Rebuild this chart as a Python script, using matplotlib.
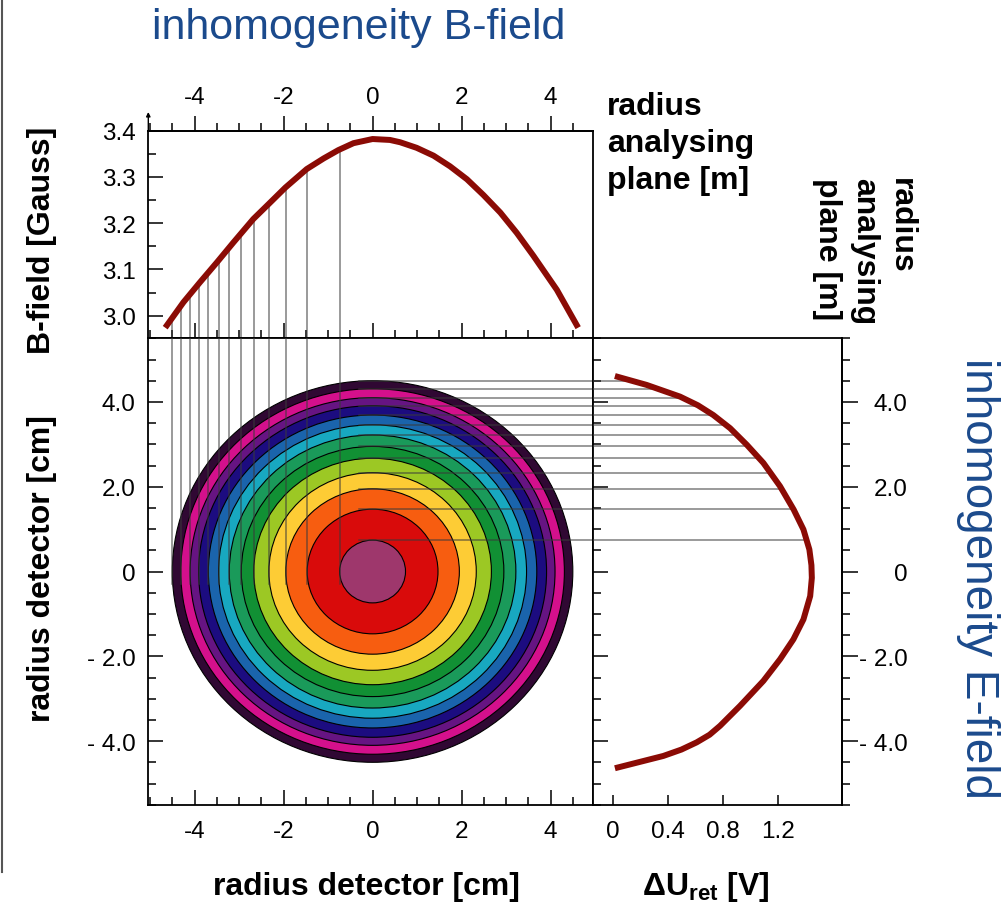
import numpy as np
import matplotlib
matplotlib.use('Agg')
import matplotlib.pyplot as plt
from matplotlib.patches import Circle
from matplotlib.ticker import MultipleLocator, FixedLocator
from matplotlib.lines import Line2D

plt.rcParams['font.family'] = ['Liberation Sans', 'DejaVu Sans']
plt.rcParams['mathtext.fontset'] = 'custom'
plt.rcParams['mathtext.rm'] = 'Liberation Sans'
plt.rcParams['mathtext.bf'] = 'Liberation Sans:bold'

# ---------------- data ----------------
# detector rings (outer to inner) [cm]
ring_radii = [4.50, 4.31, 4.10, 3.91, 3.69, 3.46, 3.22, 2.95, 2.67, 2.33, 1.95, 1.47, 0.74]
ring_colors = ['#300833', '#d4108c', '#661482', '#1c0c80', '#1a64ac', '#18a8c0',
               '#1a9a5a', '#119034', '#9cc824', '#fdcc35', '#f75d10', '#d90b0b', '#9e376c']

# magnetic field in the analysing plane
bfield_r = [-4.66, -4.25, -3.88, -3.50, -3.13, -2.68, -2.34, -1.96, -1.48, -1.10, -0.77,
            -0.43, 0.0, 0.39, 0.62, 0.99, 1.37, 1.74, 2.12, 2.49, 2.87, 3.24, 3.61,
            4.14, 4.62]
bfield_gauss = [2.974, 3.029, 3.072, 3.115, 3.158, 3.209, 3.241, 3.277, 3.317, 3.340, 3.358,
                3.373, 3.382, 3.380, 3.375, 3.363, 3.346, 3.323, 3.295, 3.261, 3.223, 3.179,
                3.130, 3.056, 2.974]

# retarding potential inhomogeneity
du_r = [4.61, 4.40, 4.125, 3.92, 3.69, 3.38, 2.99, 2.56, 2.01, 1.46, 0.99, 0.52, 0.15,
        -0.15, -0.58, -1.13, -1.60, -2.07, -2.58, -3.17, -3.64, -3.85, -4.03, -4.20,
        -4.35, -4.64]
du_volt = [0.012, 0.243, 0.485, 0.615, 0.727, 0.849, 0.970, 1.091, 1.212, 1.311, 1.382,
           1.425, 1.440, 1.443, 1.431, 1.382, 1.309, 1.212, 1.091, 0.921, 0.776, 0.700,
           0.606, 0.495, 0.364, 0.012]

r_ticks = [-4, -2, 0, 2, 4]
r_ticklabels = ['-4', '-2', '0', '2', '4']
det_ticklabels = ['- 4.0', '- 2.0', '0', '2.0', '4.0']
b_ticks = [3.0, 3.1, 3.2, 3.3, 3.4]
b_ticklabels = ['3.0', '3.1', '3.2', '3.3', '3.4']
u_ticks = [0, 0.4, 0.8, 1.2]
u_ticklabels = ['0', '0.4', '0.8', '1.2']

# ---------------- layout ----------------
W, H = 1001, 904
fig = plt.figure(figsize=(W / 100, H / 100), dpi=100)


def rect(l, t, r, b):
    return [l / W, 1 - b / H, (r - l) / W, (b - t) / H]


ax_top = fig.add_axes(rect(148.3, 131.7, 593.3, 339.3))
ax_main = fig.add_axes(rect(148.3, 339.3, 593.3, 805.7))
ax_right = fig.add_axes(rect(593.3, 339.3, 841.7, 805.7))

XLIM = (-5.04, 4.96)
YLIM = (-5.5, 5.5)
CURVE = '#8b0b05'
GUIDE = dict(color='#3a3a3a', lw=1.1, alpha=0.65, zorder=5)
TICKFS = 17.5
LBLFS = 23
BLUE = '#1b4a8c'

for ax in (ax_top, ax_main, ax_right):
    for s in ax.spines.values():
        s.set_linewidth(1.3)

# ---------------- detector rings ----------------
ax_main.set_xlim(*XLIM)
ax_main.set_ylim(*YLIM)
for r, c in zip(ring_radii, ring_colors):
    ax_main.add_patch(Circle((0, 0), r, facecolor=c, edgecolor='black', lw=0.8, zorder=2))

ax_main.xaxis.set_major_locator(FixedLocator(r_ticks))
ax_main.set_xticklabels(r_ticklabels)
ax_main.xaxis.set_minor_locator(MultipleLocator(0.5))
ax_main.yaxis.set_major_locator(FixedLocator(r_ticks))
ax_main.set_yticklabels(det_ticklabels)
ax_main.yaxis.set_minor_locator(MultipleLocator(0.5))
ax_main.tick_params(axis='both', which='both', direction='in', top=False, right=False,
                    labelsize=TICKFS, width=1.1)
ax_main.tick_params(axis='both', which='major', length=11)
ax_main.tick_params(axis='both', which='minor', length=5.5)
ax_main.tick_params(axis='x', pad=11)
ax_main.tick_params(axis='y', pad=9)

# ---------------- B-field ----------------
ax_top.set_xlim(*XLIM)
ax_top.set_ylim(2.951, 3.4)
ax_top.plot(bfield_r, bfield_gauss, color=CURVE, lw=4.3, solid_capstyle='butt',
            solid_joinstyle='round', zorder=6)
ax_top.xaxis.set_major_locator(FixedLocator(r_ticks))
ax_top.xaxis.set_minor_locator(MultipleLocator(0.5))
ax_top.yaxis.set_major_locator(FixedLocator(b_ticks))
ax_top.set_yticklabels(b_ticklabels)
ax_top.yaxis.set_minor_locator(MultipleLocator(0.05))
ax_top.tick_params(axis='both', which='both', direction='in', top=False, right=False,
                   labelbottom=False, labelsize=TICKFS, width=1.1)
ax_top.tick_params(axis='both', which='major', length=11)
ax_top.tick_params(axis='both', which='minor', length=5.5)
ax_top.tick_params(axis='y', pad=9)

sec_top = ax_top.secondary_xaxis('top')
sec_top.xaxis.set_major_locator(FixedLocator(r_ticks))
sec_top.set_xticklabels(r_ticklabels)
sec_top.xaxis.set_minor_locator(MultipleLocator(0.5))
sec_top.tick_params(axis='x', which='both', direction='out', labelsize=TICKFS, width=1.1, pad=5)
sec_top.tick_params(axis='x', which='major', length=11)
sec_top.tick_params(axis='x', which='minor', length=5.5)
sec_top.spines['top'].set_linewidth(1.3)

ax_top.annotate('', xy=(0, 1.09), xytext=(0, 1.0), xycoords='axes fraction',
                arrowprops=dict(arrowstyle='-|>', lw=1.0, color='black', mutation_scale=6,
                                shrinkA=0, shrinkB=0), annotation_clip=False)

# ---------------- retarding potential ----------------
ax_right.set_xlim(-0.145, 1.66)
ax_right.set_ylim(*YLIM)
ax_right.plot(du_volt, du_r, color=CURVE, lw=4.3, solid_capstyle='butt',
              solid_joinstyle='round', zorder=6)
ax_right.xaxis.set_major_locator(FixedLocator(u_ticks))
ax_right.set_xticklabels(u_ticklabels)
ax_right.yaxis.set_major_locator(FixedLocator(r_ticks))
ax_right.yaxis.set_minor_locator(MultipleLocator(0.5))
ax_right.tick_params(axis='both', which='both', direction='in', top=False, right=False,
                     labelleft=False, labelsize=TICKFS, width=1.1)
ax_right.tick_params(axis='x', which='major', length=7.5, pad=11)
ax_right.tick_params(axis='y', which='major', length=11)
ax_right.tick_params(axis='y', which='minor', length=5.5)

sec_right = ax_right.secondary_yaxis('right')
sec_right.yaxis.set_major_locator(FixedLocator(r_ticks))
sec_right.set_yticklabels(det_ticklabels)
sec_right.yaxis.set_minor_locator(MultipleLocator(0.5))
sec_right.tick_params(axis='y', which='both', direction='out', labelsize=TICKFS, width=1.1,
                      pad=36)
sec_right.tick_params(axis='y', which='major', length=11.5)
sec_right.tick_params(axis='y', which='minor', length=5.5)
sec_right.spines['right'].set_linewidth(1.3)
for lbl in sec_right.get_yticklabels():
    lbl.set_horizontalalignment('right')

# ---------------- guide lines linking the panels ----------------
b_order = np.argsort(bfield_r)
u_order = np.argsort(du_r)
b_sorted_r = np.asarray(bfield_r)[b_order]
b_sorted_g = np.asarray(bfield_gauss)[b_order]
u_sorted_r = np.asarray(du_r)[u_order]
u_sorted_v = np.asarray(du_volt)[u_order]
for r in ring_radii:
    b_val = np.interp(-r, b_sorted_r, b_sorted_g)
    ax_top.plot([-r, -r], [2.951, b_val], **GUIDE)
    ax_main.plot([-r, -r], [YLIM[1], -0.3], **GUIDE)
    ax_main.plot([-0.3, XLIM[1]], [r, r], **GUIDE)
    u_val = np.interp(r, u_sorted_r, u_sorted_v)
    ax_right.plot([-0.145, u_val], [r, r], **GUIDE)

# ---------------- texts ----------------
fig.text(152 / W, 1 - 39 / H, 'inhomogeneity B-field', fontsize=31, color=BLUE,
         ha='left', va='baseline')
fig.text(966 / W, 1 - 358 / H, 'inhomogeneity E-field', fontsize=33, color=BLUE,
         rotation=-90, rotation_mode='anchor', ha='left', va='baseline')

fig.text(607 / W, 1 - 189 / H, 'radius\nanalysing\nplane [m]', fontsize=LBLFS,
         fontweight='bold', ha='left', va='baseline', linespacing=1.3)
fig.text(916 / W, 1 - 178 / H, 'radius\nanalysing\nplane [m]', fontsize=LBLFS,
         fontweight='bold', rotation=-90, rotation_mode='anchor', ha='left', va='top',
         linespacing=1.3)

fig.text(50 / W, 1 - 240 / H, 'B-field [Gauss]', fontsize=LBLFS, fontweight='bold',
         rotation=90, rotation_mode='anchor', ha='center', va='baseline')
fig.text(50 / W, 1 - 569 / H, 'radius detector [cm]', fontsize=LBLFS, fontweight='bold',
         rotation=90, rotation_mode='anchor', ha='center', va='baseline')
fig.text(366 / W, 1 - 895 / H, 'radius detector [cm]', fontsize=LBLFS, fontweight='bold',
         ha='center', va='baseline')
fig.text(706 / W, 1 - 895 / H, r'ΔU$_{\mathbf{ret}}$ [V]', fontsize=LBLFS,
         fontweight='bold', ha='center', va='baseline')

# slide border on the left
fig.add_artist(Line2D([1.5 / W, 1.5 / W], [1, 1 - 873 / H], transform=fig.transFigure,
                      color='#555555', lw=1.5))

fig.savefig('out.png', dpi=100)
